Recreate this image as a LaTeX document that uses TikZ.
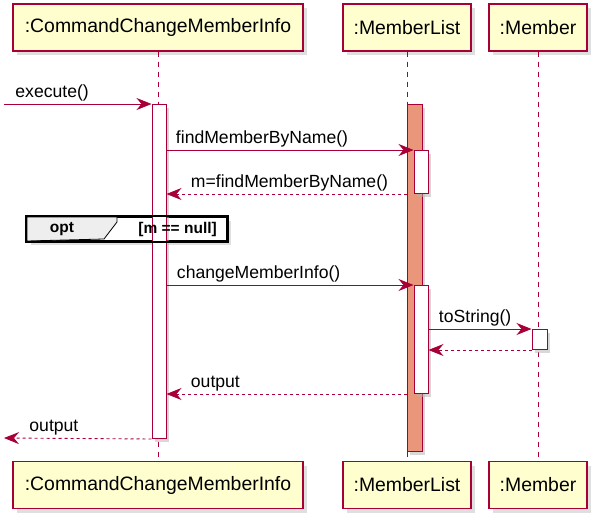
\documentclass[tikz,border=0pt]{standalone}
\usepackage{fontspec}
\setmainfont{Liberation Sans}
\usetikzlibrary{arrows.meta,shadows}
\definecolor{umlred}{HTML}{A80036}
\definecolor{umlfill}{HTML}{FEFECE}
\definecolor{barsalmon}{HTML}{E9967A}
\definecolor{optgray}{HTML}{EEEEEE}

\begin{document}
\begin{tikzpicture}[x=1pt,y=-1pt,
	part/.style={draw=umlred, fill=umlfill, line width=1.2pt, minimum height=47pt, inner sep=0, font=\fontsize{19.4}{23}\selectfont, drop shadow={shadow xshift=4pt,shadow yshift=-4pt,fill=black!25}},
	life/.style={umlred, line width=0.8pt, dash pattern=on 5pt off 5pt},
	act/.style={draw=umlred, fill=white, line width=1pt, minimum width=14pt, inner sep=0, anchor=north, drop shadow={shadow xshift=3pt,shadow yshift=-3pt,fill=black!30}},
	msg/.style={umlred, line width=0.9pt, -{Stealth[length=15pt,width=12pt,inset=5pt]}},
	ret/.style={msg, dash pattern=on 3pt off 3pt},
	lbl/.style={font=\fontsize{17.6}{20}\selectfont, inner sep=0, text=black}]
	\useasboundingbox (0,0) rectangle (598,522);
	%participants top and bottom, with their lifelines
	\foreach \n/\x/\w/\t in {cmd/158/290/{:CommandChangeMemberInfo}, list/407/128/{:MemberList}, mem/538/98/{:Member}}{
		\node[part, minimum width=\w] (\n T) at (\x,27.5) {\t};
		\node[part, minimum width=\w] (\n B) at (\x,485) {\t};
		\draw[life] (\n T) -- (\n B);
		}
	%% opt frame, filled first so the bars sit on it
	\node[draw, line width=2pt, fill=white, minimum width=200pt, minimum height=24pt, inner sep=0, anchor=north west, drop shadow={shadow xshift=4pt,shadow yshift=-4pt,fill=black!25}] (opt) at (26,216) {};
	%% activation bars
	\node[act, minimum height=334pt] (actA) at (159,104) {};
	\node[act, fill=barsalmon, minimum width=15pt, minimum height=347pt] (actB) at (414.5,104) {};
	\node[act, minimum height=43pt] (actB1) at (421,150) {};
	\node[act, minimum height=108pt] (actB2) at (421,285) {};
	\node[act, minimum width=15pt, minimum height=20pt] (actC) at (539.5,329) {};
	%% opt frame border, tab and guard
	\draw[line width=2pt] (opt.north west) rectangle (opt.south east);
	\draw[fill=optgray, line width=0.8pt] ([shift={(1,1)}]opt.north west) -| (117,222) -- (104,239) -- ([shift={(1,-1)}]opt.south west) -- cycle;
	\node[font=\fontsize{15.5}{18}\selectfont\bfseries, inner sep=0] (optname) at (62,229) {opt};
	\node[font=\fontsize{15.5}{18}\selectfont\bfseries, inner sep=0, anchor=east] (guard) at (217,229) {[m == null]};
	%% messages
	\coordinate (in) at (4,104);
	\coordinate (out) at (4,438);
	\begin{scope}[every node/.style={lbl}]
	\draw[msg] (in) -- (actA.north west) node[pos=0, anchor=base west, xshift=11pt, yshift=6.5pt] {execute()};
	\draw[msg] (actA.east |- actB1.north) -- (actB1.north west) node[pos=0, anchor=base west, xshift=9pt, yshift=6.5pt] {findMemberByName()};
	\draw[ret] (actB.west |- actB1.south) -- (actA.east |- actB1.south) node[pos=1, anchor=base west, xshift=24pt, yshift=6.5pt] {m=findMemberByName()};
	\draw[msg] (actA.east |- actB2.north) -- (actB2.north west) node[pos=0, anchor=base west, xshift=10pt, yshift=6.5pt] {changeMemberInfo()};
	\draw[msg] (actB2.east |- actC.north) -- (actC.north west) node[pos=0, anchor=base west, xshift=10pt, yshift=6.5pt] {toString()};
	\draw[ret] (actC.south west) -- (actB2.east |- actC.south);
	\draw[ret] (actB.west |- actB2.south) -- (actA.east |- actB2.south) node[pos=1, anchor=base west, xshift=24pt, yshift=6.5pt] {output};
	\draw[ret] (actA.south west) -- (out) node[pos=1, anchor=base west, xshift=25pt, yshift=6.5pt] {output};
	\end{scope}
\end{tikzpicture}
\end{document}
